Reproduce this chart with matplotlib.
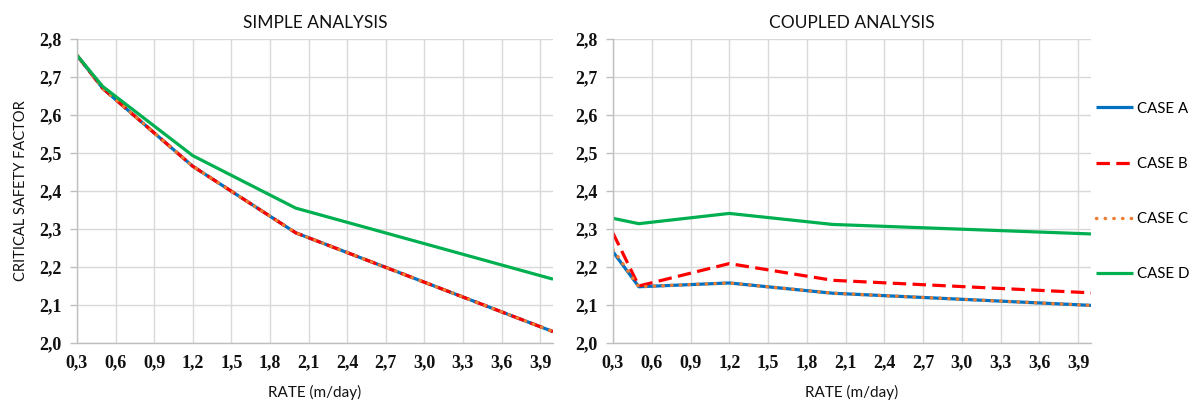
import matplotlib
matplotlib.use("Agg")
import matplotlib.pyplot as plt
from matplotlib.ticker import FuncFormatter, MultipleLocator

# ---- data ----
rate = [0.3, 0.5, 1.2, 2.0, 4.0]
series_names = ["CASE A", "CASE B", "CASE C", "CASE D"]

simple_a = [2.757, 2.670, 2.465, 2.290, 2.030]
simple_b = [2.757, 2.670, 2.465, 2.290, 2.030]
simple_c = [2.757, 2.670, 2.465, 2.290, 2.030]
simple_d = [2.757, 2.675, 2.493, 2.355, 2.168]

coupled_a = [2.240, 2.148, 2.158, 2.131, 2.099]
coupled_b = [2.289, 2.150, 2.209, 2.165, 2.132]
coupled_c = [2.246, 2.148, 2.158, 2.131, 2.099]
coupled_d = [2.328, 2.314, 2.341, 2.312, 2.287]

titles = ["SIMPLE ANALYSIS", "COUPLED ANALYSIS"]
xlabel = "RATE (m/day)"
ylabel = "CRITICAL SAFETY FACTOR"

sans = ["Lato", "DejaVu Sans"]
serif = ["Liberation Serif", "DejaVu Serif"]

styles = [
    dict(color="#0070C0", lw=2.3, ls="-", solid_capstyle="butt"),
    dict(color="#FF0000", lw=2.3, ls=(0, (4.2, 2.0)), dash_capstyle="butt"),
    dict(color="#ED7D31", lw=2.5, ls=(0, (0.1, 2.4)), dash_capstyle="round"),
    dict(color="#00B050", lw=2.3, ls="-", solid_capstyle="butt"),
]

fig = plt.figure(figsize=(12, 4.11), dpi=100)
ax1 = fig.add_axes([77 / 1200, 68 / 411, 476 / 1200, 304 / 411])
ax2 = fig.add_axes([613 / 1200, 68 / 411, 478 / 1200, 304 / 411])

fmt = FuncFormatter(lambda v, p: f"{v:.1f}".replace(".", ","))

data = [[simple_a, simple_b, simple_c, simple_d],
        [coupled_a, coupled_b, coupled_c, coupled_d]]

handles = []
for ax, title, ser in zip([ax1, ax2], titles, data):
    for name, vals, st in zip(series_names, ser, styles):
        h, = ax.plot(rate, vals, label=name, **st)
        if ax is ax2:
            handles.append(h)
    ax.set_xlim(0.3, 4.0)
    ax.set_ylim(2.0, 2.8)
    ax.xaxis.set_major_locator(MultipleLocator(0.3))
    ax.yaxis.set_major_locator(MultipleLocator(0.1))
    ax.xaxis.set_major_formatter(fmt)
    ax.yaxis.set_major_formatter(fmt)
    ax.grid(True, color="#D9D9D9", lw=1.0)
    ax.set_axisbelow(True)
    for s in ["top", "right"]:
        ax.spines[s].set_visible(False)
    for s in ["left", "bottom"]:
        ax.spines[s].set_color("#BFBFBF")
        ax.spines[s].set_linewidth(1.0)
    ax.tick_params(axis="x", length=0, pad=8)
    ax.tick_params(axis="y", length=5, width=1, color="#BFBFBF", pad=6)
    for lab in ax.get_xticklabels() + ax.get_yticklabels():
        lab.set_fontfamily(serif)
        lab.set_fontweight("bold")
        lab.set_fontsize(13)
        lab.set_color("#111111")
    ax.set_title(title, fontfamily=sans, fontsize=12.5, pad=8, color="#111111")
    ax.set_xlabel(xlabel, fontfamily=sans, fontsize=11, labelpad=10, color="#111111")

ax1.set_ylabel(ylabel, fontfamily=sans, fontsize=10.5, labelpad=8, color="#111111")

fig.legend(handles=handles, labels=series_names, loc="center left",
           bbox_to_anchor=(1096 / 1200, (411 - 191.5) / 411),
           frameon=False, borderpad=0, borderaxespad=0,
           handlelength=2.45, handletextpad=0.3, labelspacing=2.75,
           prop={"family": sans, "size": 10.8})

fig.savefig("out.png", dpi=100, facecolor="white")
